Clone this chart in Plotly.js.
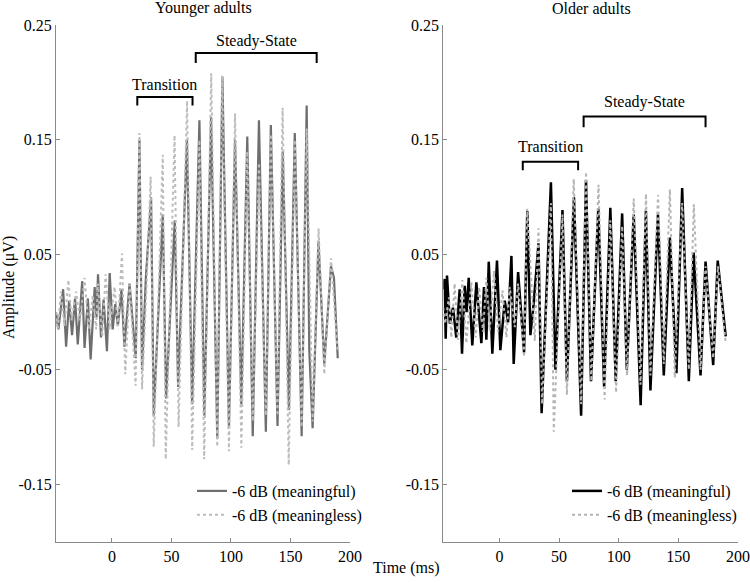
<!DOCTYPE html>
<html>
<head>
<meta charset="utf-8">
<script src="https://cdn.plot.ly/plotly-3.0.1.min.js"></script>
<style>html,body{margin:0;padding:0;background:#fff;}#chart{width:750px;height:583px;}</style>
</head>
<body>
<div id="chart"></div>
<script>
// ---------- DATA ----------
const panelTitles = ['Younger adults', 'Older adults'];
const seriesNames = ['-6 dB (meaningful)', '-6 dB (meaningless)'];
const xTickVals = [0, 50, 100, 150, 200];
const yTickVals = [-0.15, -0.05, 0.05, 0.15, 0.25];
const yTickText = ['-0.15', '-0.05', '0.05', '0.15', '0.25'];

// Younger adults, meaningful (extrema)
const youngMfT = [-47, -45, -41, -38.5, -36, -33.5, -31, -28.7, -25, -23, -20.2, -17.9, -14.5, -13, -11.7, -9.2, -7, -4.2, -1.9, 0.6, 2.8, 5, 8, 10.5, 14.8, 17.6, 20, 23.1, 25.3, 28.5, 32.9, 35.1, 42.7, 45.5, 52.8, 55.6, 63.0, 67.4, 73.5, 77.6, 83.3, 88.5, 92.8, 98.3, 103.4, 108.7, 113.7, 118.3, 123.5, 129.3, 133.5, 139.1, 143.5, 148.7, 153.6, 159.4, 163.6, 165.8, 168.6, 173.5, 178.4, 184, 186.5, 189.7];
const youngMfY = [0.0, -0.015, 0.02, -0.03, 0.01, -0.02, 0.012, -0.028, 0.027, -0.031, 0.012, -0.041, 0.022, -0.005, 0.033, -0.022, 0.011, -0.034, 0.034, -0.015, 0.007, -0.012, 0.02, -0.03, 0.025, -0.012, -0.04, 0.15, -0.05, 0.03, 0.10, -0.09, 0.085, -0.075, 0.08, -0.065, 0.15, -0.08, 0.167, -0.09, 0.17, -0.11, 0.205, -0.1, 0.15, -0.08, 0.153, -0.108, 0.167, -0.104, 0.163, -0.099, 0.14, -0.085, 0.156, -0.108, 0.18, -0.033, -0.101, 0.062, -0.045, 0.04, 0.03, -0.04];

// Younger adults, meaningless
const youngMlT = [-47, -45.6, -42.8, -39.9, -36.6, -33.8, -30.1, -26.7, -23.1, -19.4, -16.1, -13.2, -11.9, -8.2, -5.3, -2.0, 2.2, 5.0, 8.4, 11.2, 14.9, 19.9, 23.1, 25.3, 29, 32.5, 35.1, 42.7, 45.2, 52.6, 56.0, 63.1, 67.4, 73.5, 77.5, 83.4, 88.5, 92.6, 98.3, 103.4, 108.7, 113.7, 118.3, 123.5, 129.3, 133.5, 139.1, 143.4, 148.5, 153.6, 159.4, 163.6, 168.6, 173.6, 178.4, 184, 189.7];
const youngMlY = [0.0, -0.015, 0.018, -0.012, 0.028, -0.007, 0.018, -0.007, 0.030, -0.015, 0.015, -0.015, 0.025, -0.021, 0.033, -0.015, 0.022, -0.012, 0.051, -0.054, 0.024, -0.064, 0.156, -0.067, 0.02, 0.118, -0.117, 0.137, -0.128, 0.154, -0.1, 0.184, -0.12, 0.15, -0.128, 0.208, -0.117, 0.206, -0.121, 0.173, -0.118, 0.14, -0.095, 0.13, -0.09, 0.155, -0.09, 0.178, -0.133, 0.15, -0.1, 0.16, -0.095, 0.073, -0.054, 0.047, -0.035];

// Older adults, meaningful
const oldMfT = [-47, -45.9, -45, -43.9, -41.5, -38.9, -36.1, -33.3, -31.3, -29.1, -27.5, -25.7, -22.7, -19.3, -15.1, -12.9, -10.9, -8.9, -5.9, -2, 0.8, 4.5, 7.3, 10.1, 12, 15.7, 20.7, 23.4, 26, 28.5, 32.8, 35.4, 43.2, 47, 52.9, 56.6, 62.5, 68.5, 72.6, 76.8, 82.9, 87.8, 93.0, 97.5, 102.9, 106.8, 112.6, 118.4, 122.8, 126.6, 132.9, 137.8, 142.9, 148.4, 153.2, 158.8, 162.8, 168.6, 172.8, 179.2, 183, 189.7];
const oldMfY = [0.02, 0.029, -0.023, 0.032, -0.01, 0.004, -0.022, 0.02, -0.036, 0.023, 0.0, 0.03, -0.029, 0.026, -0.027, 0.022, -0.024, 0.044, -0.036, 0.045, -0.033, 0.01, -0.009, 0.049, -0.045, 0.035, -0.035, 0.088, -0.02, 0.005, 0.06, -0.088, 0.113, -0.05, 0.089, -0.06, 0.1, -0.09, 0.115, -0.06, 0.09, -0.065, 0.091, -0.06, 0.086, -0.05, 0.085, -0.081, 0.088, -0.068, 0.085, -0.055, 0.065, -0.053, 0.108, -0.06, 0.052, -0.055, 0.044, -0.046, 0.045, -0.021];

// Older adults, meaningless
const oldMlT = [-47, -45.5, -42.3, -40.3, -37.5, -34.7, -31, -27.7, -23.5, -19.8, -17, -13.7, -10.9, -8.1, -4.5, -1.1, 2.6, 5.9, 8.7, 12.9, 15.7, 20.7, 23.3, 29.7, 32.8, 35.8, 43.2, 45.6, 52.9, 56.6, 62.3, 68.5, 72.6, 77, 83.1, 88.2, 93, 97.8, 102.9, 107, 112.6, 118.3, 122.9, 126.6, 133, 137.8, 142.9, 147, 153.2, 158.8, 163, 168.6, 172.8, 179.2, 183.2, 189.7];
const oldMlY = [0.004, -0.01, 0.013, -0.022, 0.025, -0.024, 0.028, -0.027, 0.026, -0.022, 0.022, -0.017, 0.03, -0.016, 0.036, -0.017, 0.019, -0.022, 0.022, -0.013, 0.025, -0.039, 0.09, -0.025, 0.073, -0.08, 0.095, -0.104, 0.085, -0.072, 0.116, -0.08, 0.122, -0.06, 0.111, -0.076, 0.08, -0.07, 0.075, -0.055, 0.099, -0.063, 0.103, -0.055, 0.102, -0.045, 0.107, -0.057, 0.095, -0.05, 0.094, -0.05, 0.04, -0.04, 0.04, -0.027];

// Brackets: [start ms, end ms], [bracket level, end-tick level, label level]
const youngTransX = [21.3, 67.7];
const youngTransY = [0.1874, 0.180, 0.198];
const youngSteadyX = [70.4, 172];
const youngSteadyY = [0.2257, 0.217, 0.236];
const oldTransX = [19.6, 66];
const oldTransY = [0.131, 0.1235, 0.144];
const oldSteadyX = [70.6, 172.8];
const oldSteadyY = [0.1703, 0.161, 0.183];

// ---------- STYLE ----------
const FONT = 'Liberation Serif';
const FS = 16;
const axisLine = '#8a8a8a';

function line(t, y, xa, ya, name, color, width, dash, legend) {
  return {x: t, y: y, xaxis: xa, yaxis: ya, name: name, type: 'scatter', mode: 'lines',
    line: {color: color, width: width, dash: dash}, legend: legend, hoverinfo: 'skip'};
}

const traces = [
  line(youngMfT, youngMfY, 'x', 'y', seriesNames[0], '#6e6e6e', 2.2, 'solid', 'legend'),
  line(youngMlT, youngMlY, 'x', 'y', seriesNames[1], '#bcbcbc', 2, 'dot', 'legend'),
  line(oldMfT, oldMfY, 'x2', 'y2', seriesNames[0], '#000000', 2.5, 'solid', 'legend2'),
  line(oldMlT, oldMlY, 'x2', 'y2', seriesNames[1], '#b4b4b4', 2, 'dot', 'legend2')
];

function bracketShapes(xr, yr, xref, yref) {
  const s = {type: 'path', xref: xref, yref: yref, line: {color: '#000', width: 2}};
  s.path = 'M' + xr[0] + ',' + yr[1] + ' L' + xr[0] + ',' + yr[0] + ' L' + xr[1] + ',' + yr[0] + ' L' + xr[1] + ',' + yr[1];
  return s;
}
function bracketLabel(text, xr, yr, xref, yref) {
  return {text: text, x: (xr[0] + xr[1]) / 2, y: yr[2], xref: xref, yref: yref, showarrow: false,
    xanchor: 'center', yanchor: 'middle', font: {family: FONT, size: FS, color: '#000'}};
}

function xAxis(domain, anchor) {
  return {domain: domain, anchor: anchor, range: [-47, 200], tickvals: xTickVals, ticktext: xTickVals.map(String),
    showline: true, linecolor: axisLine, linewidth: 1, ticks: 'inside', ticklen: 4, tickcolor: axisLine,
    showgrid: false, zeroline: false, tickfont: {family: FONT, size: FS, color: '#000'}, fixedrange: true};
}
function yAxis(domain, anchor) {
  return {domain: domain, anchor: anchor, range: [-0.2, 0.25], tickvals: yTickVals, ticktext: yTickText,
    showline: true, linecolor: axisLine, linewidth: 1, ticks: 'inside', ticklen: 4, tickcolor: axisLine,
    showgrid: false, zeroline: false, tickfont: {family: FONT, size: FS, color: '#000'}, fixedrange: true};
}

const yDom = [1 - 542 / 583, 1 - 25 / 583];
const legendCommon = {bgcolor: 'rgba(0,0,0,0)', font: {family: FONT, size: FS, color: '#000'},
  tracegroupgap: 0, itemwidth: 30, xanchor: 'left', yanchor: 'top'};

const layout = {
  width: 750, height: 583,
  margin: {l: 0, r: 0, t: 0, b: 0},
  paper_bgcolor: '#fff', plot_bgcolor: '#fff',
  font: {family: FONT, size: FS, color: '#000'},
  showlegend: true,
  xaxis: xAxis([56 / 750, 350 / 750], 'y'),
  yaxis: yAxis(yDom, 'x'),
  xaxis2: xAxis([443.3 / 750, 738 / 750], 'y2'),
  yaxis2: yAxis(yDom, 'x2'),
  legend: Object.assign({}, legendCommon, {x: 192 / 750, y: 1 - 474 / 583}),
  legend2: Object.assign({}, legendCommon, {x: 567 / 750, y: 1 - 474 / 583}),
  shapes: [
    bracketShapes(youngTransX, youngTransY, 'x', 'y'),
    bracketShapes(youngSteadyX, youngSteadyY, 'x', 'y'),
    bracketShapes(oldTransX, oldTransY, 'x2', 'y2'),
    bracketShapes(oldSteadyX, oldSteadyY, 'x2', 'y2')
  ],
  annotations: [
    {text: panelTitles[0], x: 203 / 750, y: 1 - 8 / 583, xref: 'paper', yref: 'paper', showarrow: false, xanchor: 'center', yanchor: 'middle', font: {family: FONT, size: FS}},
    {text: panelTitles[1], x: 591 / 750, y: 1 - 8 / 583, xref: 'paper', yref: 'paper', showarrow: false, xanchor: 'center', yanchor: 'middle', font: {family: FONT, size: FS}},
    {text: 'Amplitude (μV)', x: 9 / 750, y: 1 - 288 / 583, xref: 'paper', yref: 'paper', showarrow: false, textangle: -90, xanchor: 'center', yanchor: 'middle', font: {family: FONT, size: FS}},
    {text: 'Time (ms)', x: 406 / 750, y: 1 - 568 / 583, xref: 'paper', yref: 'paper', showarrow: false, xanchor: 'center', yanchor: 'middle', font: {family: FONT, size: FS}},
    bracketLabel('Transition', youngTransX, youngTransY, 'x', 'y'),
    bracketLabel('Steady-State', youngSteadyX, youngSteadyY, 'x', 'y'),
    bracketLabel('Transition', oldTransX, oldTransY, 'x2', 'y2'),
    bracketLabel('Steady-State', oldSteadyX, oldSteadyY, 'x2', 'y2')
  ]
};

Plotly.newPlot('chart', traces, layout, {staticPlot: true, displayModeBar: false});
</script>
</body>
</html>
